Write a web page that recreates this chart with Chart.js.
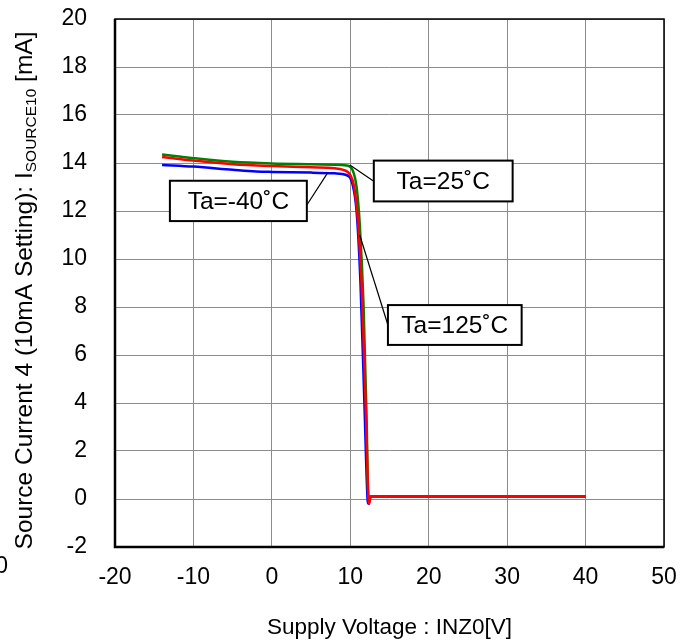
<!DOCTYPE html>
<html>
<head>
<meta charset="utf-8">
<script src="https://cdn.jsdelivr.net/npm/chart.js@4.4.0/dist/chart.umd.min.js"></script>
<style>
  html, body { margin: 0; padding: 0; background: #fff; }
  #wrap { width: 693px; height: 643px; }
</style>
</head>
<body>
<div id="wrap"><canvas id="myChart" width="693" height="643"></canvas></div>
<script>
// supply voltage [V] vs source current [mA]
var redX   = [-14, -10, -5, 0, 5, 8, 9, 10, 10.5, 11, 11.5, 12, 12.3, 12.4, 12.6, 40];
var redY   = [14.25, 14.1, 13.95, 13.87, 13.82, 13.78, 13.72, 13.5, 13.0, 11.5, 8.5, 3.5, 0.1, -0.2, 0.1, 0.1];
var greenX = [-14, -10, -5, 0, 5, 8, 9.5, 10.3, 10.8, 11.2, 11.7, 12.1, 12.3, 12.6, 40];
var greenY = [14.35, 14.2, 14.05, 13.98, 13.95, 13.93, 13.9, 13.7, 13.0, 11.5, 8.0, 3.0, 0.1, 0.1, 0.1];
var blueX  = [-14, -10, -5, -2, 0, 5, 8, 9.5, 10.3, 10.8, 11.3, 11.8, 12.2, 12.3, 12.6, 40];
var blueY  = [13.92, 13.85, 13.72, 13.65, 13.63, 13.6, 13.57, 13.5, 13.1, 12.0, 9.0, 4.0, 0.0, -0.2, 0.1, 0.1];

var xTicks = [-20, -10, 0, 10, 20, 30, 40, 50];
var yTicks = [-2, 0, 2, 4, 6, 8, 10, 12, 14, 16, 18, 20];

// labels: text, box (x1,x2,y1,y2) and leader line (from curve to box), in data units
var labels = [
  { text: 'Ta=25\u02DAC',  box: [13.0, 30.7, 14.1, 12.4],  line: [9.94, 13.92, 12.9, 13.26] },
  { text: 'Ta=125\u02DAC', box: [14.8, 31.85, 8.08, 6.42], line: [11.2, 11.0, 14.8, 7.25] },
  { text: 'Ta=-40\u02DAC', box: [-13.0, 4.46, 13.26, 11.58], line: [7.13, 13.6, 4.46, 12.25] }
];

function pts(xs, ys) {
  var out = [];
  for (var i = 0; i < xs.length; i++) out.push({ x: xs[i], y: ys[i] });
  return out;
}

var FONT = 'Arial, "Liberation Sans", sans-serif';

var extras = {
  id: 'extras',
  afterDatasetsDraw: function(chart) {
    var ctx = chart.ctx, xs = chart.scales.x, ys = chart.scales.y, a = chart.chartArea;
    ctx.save();
    // frame
    ctx.strokeStyle = '#000';
    ctx.lineWidth = 1.5;
    ctx.strokeRect(a.left, a.top, a.right - a.left, a.bottom - a.top);
    ctx.lineWidth = 2.5;
    ctx.beginPath();
    ctx.moveTo(a.left, a.top);
    ctx.lineTo(a.left, a.bottom);
    ctx.lineTo(a.right, a.bottom);
    ctx.stroke();

    // annotation boxes
    labels.forEach(function(l) {
      ctx.strokeStyle = '#000';
      ctx.lineWidth = 1.2;
      ctx.beginPath();
      ctx.moveTo(xs.getPixelForValue(l.line[0]), ys.getPixelForValue(l.line[1]));
      ctx.lineTo(xs.getPixelForValue(l.line[2]), ys.getPixelForValue(l.line[3]));
      ctx.stroke();
      var x1 = xs.getPixelForValue(l.box[0]), x2 = xs.getPixelForValue(l.box[1]);
      var y1 = ys.getPixelForValue(l.box[2]), y2 = ys.getPixelForValue(l.box[3]);
      ctx.fillStyle = '#fff';
      ctx.fillRect(x1, y1, x2 - x1, y2 - y1);
      ctx.lineWidth = 2;
      ctx.strokeRect(x1, y1, x2 - x1, y2 - y1);
      ctx.fillStyle = '#000';
      ctx.font = '24.5px ' + FONT;
      ctx.textAlign = 'center';
      ctx.textBaseline = 'middle';
      ctx.fillText(l.text, (x1 + x2) / 2, (y1 + y2) / 2 + 1);
    });

    // x title
    ctx.font = '22.5px ' + FONT;
    ctx.textAlign = 'center';
    ctx.textBaseline = 'alphabetic';
    ctx.fillText('Supply Voltage : INZ0[V]', (a.left + a.right) / 2, 634);

    // y title with subscript
    var p1 = 'Source Current 4 (10mA Setting): I', sub = 'SOURCE10', p2 = ' [mA]';
    ctx.font = '24.5px ' + FONT;
    var w1 = ctx.measureText(p1).width, w3 = ctx.measureText(p2).width;
    ctx.font = '15.5px ' + FONT;
    var w2 = ctx.measureText(sub).width;
    var total = w1 + w2 + w3;
    ctx.translate(31.5, 290.5);
    ctx.rotate(-Math.PI / 2);
    ctx.textAlign = 'left';
    ctx.textBaseline = 'alphabetic';
    var sx = -total / 2;
    ctx.font = '24.5px ' + FONT;
    ctx.fillText(p1, sx, 0);
    ctx.font = '15.5px ' + FONT;
    ctx.fillText(sub, sx + w1, 4);
    ctx.font = '24.5px ' + FONT;
    ctx.fillText(p2, sx + w1 + w2, 0);
    ctx.restore();

    // clipped stray label at the left edge
    ctx.save();
    ctx.font = '23px ' + FONT;
    ctx.fillStyle = '#000';
    ctx.textAlign = 'right';
    ctx.textBaseline = 'middle';
    ctx.fillText('0', 8, 567);
    ctx.restore();
  }
};

function drawChart() {
  var ctx = document.getElementById('myChart');
  new Chart(ctx, {
    type: 'scatter',
    data: {
      datasets: [
        { label: 'Ta=125', data: pts(redX, redY), borderColor: '#ff0000' },
        { label: 'Ta=25', data: pts(greenX, greenY), borderColor: '#008000' },
        { label: 'Ta=-40', data: pts(blueX, blueY), borderColor: '#0000ff' }
      ].map(function(d) {
        d.showLine = true;
        d.borderWidth = 2.5;
        d.pointRadius = 0;
        d.cubicInterpolationMode = 'monotone';
        d.fill = false;
        return d;
      })
    },
    options: {
      responsive: false,
      animation: false,
      layout: { padding: { left: 0, right: 29, top: 19, bottom: 0 } },
      plugins: { legend: { display: false }, tooltip: { enabled: false } },
      scales: {
        x: {
          type: 'linear', min: -20, max: 50,
          afterBuildTicks: function(s) { s.ticks = xTicks.map(function(v) { return { value: v }; }); },
          afterFit: function(s) { s.height = 96; s.paddingLeft = 0; s.paddingRight = 0; },
          grid: { color: '#8c8c8c', lineWidth: 1, drawTicks: false },
          border: { display: false },
          ticks: { color: '#000', font: { size: 23, family: FONT }, padding: 17, maxRotation: 0 }
        },
        y: {
          type: 'linear', min: -2, max: 20,
          afterBuildTicks: function(s) { s.ticks = yTicks.map(function(v) { return { value: v }; }); },
          afterFit: function(s) { s.width = 115; s.paddingTop = 0; s.paddingBottom = 0; },
          grid: { color: '#8c8c8c', lineWidth: 1, drawTicks: false },
          border: { display: false },
          ticks: { color: '#000', font: { size: 23, family: FONT }, padding: 28 }
        }
      }
    },
    plugins: [extras]
  });
}
drawChart();
</script>
</body>
</html>
